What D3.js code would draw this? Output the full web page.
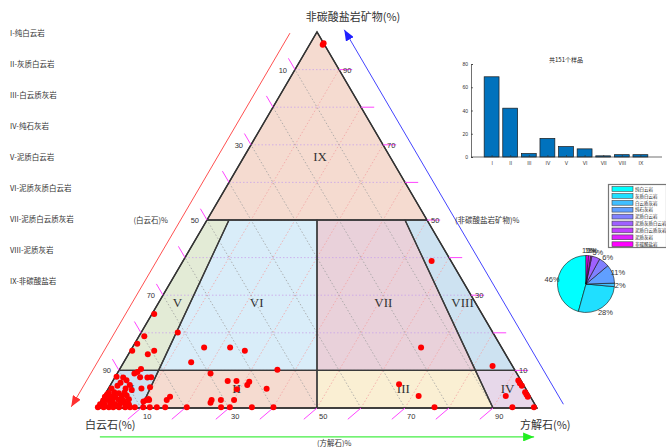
<!DOCTYPE html>
<html>
<head>
<meta charset="utf-8">
<script src="https://cdn.jsdelivr.net/npm/d3@7"></script>
<style>
  body { margin: 0; background: #fff; }
  svg { display: block; }
  text { font-family: "Noto Sans CJK SC", "Liberation Sans", sans-serif; }
</style>
</head>
<body>
<svg id="chart" width="666" height="447"></svg>
<script>
// ---- data -------------------------------------------------------------
const classCodes = ["I", "II", "III", "IV", "V", "VI", "VII", "VIII", "IX"];
const classNames = ["纯白云岩", "灰质白云岩", "白云质灰岩", "纯石灰岩", "泥质白云岩",
                    "泥质灰质白云岩", "泥质白云质灰岩", "泥质灰岩", "非碳酸盐岩"];
const sampleCounts = [69, 42, 3, 16, 9, 7, 1, 2, 2];
const barTicks = [0, 20, 40, 60, 80];
const ternaryLabels = [10, 30, 50, 70, 90];
const gridLevels = [10, 20, 30, 40, 50, 60, 70, 80, 90];
// class boundaries: non-carbonate content (%) and calcite / (calcite + dolomite)
const nonCarbBreaks = [0, 10, 50, 100];
const calciteRatioBreaks = [0, 0.1, 0.5, 0.9, 1];
const regionFills = ["#cde2f1", "#f5dbd0", "#faefd3", "#e7d8ea", "#e3ebd6",
                     "#d9edf9", "#e9d1da", "#cde2f1", "#f5dbd0"];
// samples: [方解石 %, 非碳酸盐岩矿物 %]; 白云石 % is the remainder
const samples = [
  [3, 97], [3, 96.6],
  [56.5, 39.1], [84.3, 11.2],
  [65.6, 16.1],
  [16.3, 16.1], [22.2, 16.1], [26.0, 15.2], [15.3, 12.2], [35.9, 10.2], [8.3, 20.1],
  [0.5, 25.0], [1.2, 19.1], [0.6, 17.1], [0.4, 15.2], [5.4, 15.2], [4.4, 14.3], [4.8, 10.4],
  [65.5, 6.3], [71.5, 3.2], [76.6, 0.2],
  [92.1, 7.3], [92.8, 6.6], [93.6, 5.9], [95.2, 4.2], [95.8, 3.6], [96.4, 3.0],
  [91.3, 3.2], [94.3, 0.2], [99.2, 0.2],
  [21.2, 9.2], [26.1, 7.2], [28.1, 7.2], [29.3, 5.0], [31.1, 6.1], [31.1, 7.0], [36.0, 5.1],
  [25.0, 2.1], [25.1, 1.4], [27.1, 2.1], [30.1, 2.1], [28.1, 0.2], [30.1, 0.2], [35.1, 0.2],
  [40.0, 0.2], [10.4, 0.2], [11.9, 0.2], [13.5, 0.2], [15.4, 0.2], [20.3, 0.2], [14.8, 2.1],
  [15.1, 3.0], [10.8, 2.1], [10.2, 2.1], [10.5, 2.4],
  [5.7, 8.2], [7.4, 8.1], [8.2, 8.2], [7.5, 5.2], [9.3, 5.5], [9.7, 1.7], [4.4, 9.6], [3.9, 9.2],
  [0.3, 8.3], [1.9, 8.1], [2.0, 6.7], [3.0, 7.4], [4.4, 6.1], [3.9, 5.2], [5.5, 4.8], [1.7, 5.9],
  [0.7, 5.2], [0.5, 3.5],
  [0.1, 0.2], [1.4, 0.2], [2.6, 0.2], [3.6, 0.2], [4.9, 0.2], [6.3, 0.2], [7.4, 0.2], [8.5, 0.2],
  [0.2, 1.0], [1.2, 1.0], [2.4, 1.2], [3.6, 1.0], [4.7, 1.1], [5.8, 1.3], [6.8, 0.9],
  [0.4, 2.0], [1.5, 2.1], [2.6, 1.9], [3.8, 2.2], [5.0, 2.0], [6.1, 2.3],
  [0.3, 3.0], [1.6, 3.1], [2.7, 2.9], [4.0, 3.2], [5.1, 3.3],
  [0.6, 4.0], [1.8, 4.2], [3.0, 3.9], [4.2, 4.1]
];

// ---- setup ------------------------------------------------------------
const svg = d3.select("#chart");
const defs = svg.append("defs");
function arrowMarker(id, color) {
  defs.append("marker").attr("id", id)
    .attr("markerUnits", "userSpaceOnUse")
    .attr("markerWidth", 11).attr("markerHeight", 9)
    .attr("refX", 11).attr("refY", 4.5).attr("orient", "auto")
    .append("path").attr("d", "M0,0L11,4.5L0,9Z").attr("fill", color);
}
arrowMarker("arRed", "#ff3030");
arrowMarker("arBlue", "#2020ff");
arrowMarker("arGreen", "#22ee22");

// ternary scales: x carries calcite + half of non-carbonate, y carries non-carbonate
const xT = d3.scaleLinear().domain([0, 100]).range([97, 537]);
const yT = d3.scaleLinear().domain([0, 100]).range([408, 32]);
const pt = (c, n) => [xT(c + n / 2), yT(n)];
const line = d3.line();

const tern = svg.append("g");

// class regions
const regions = [];
[[0, 1], [1, 2]].forEach(([a, b]) => {
  const n0 = nonCarbBreaks[a], n1 = nonCarbBreaks[b];
  for (let k = 0; k < calciteRatioBreaks.length - 1; k++) {
    const r0 = calciteRatioBreaks[k], r1 = calciteRatioBreaks[k + 1];
    const nl = a === 0 ? 5.3 : 28;
    regions.push({
      poly: [pt(r0 * (100 - n0), n0), pt(r1 * (100 - n0), n0),
             pt(r1 * (100 - n1), n1), pt(r0 * (100 - n1), n1)],
      lab: pt((r0 + r1) / 2 * (100 - nl), nl)
    });
  }
});
regions.push({
  poly: [pt(0, 50), pt(50, 50), pt(0, 100)],
  lab: pt(16.6, 66.8)
});

tern.selectAll("polygon.fill").data(regions).join("polygon")
  .attr("class", "fill")
  .attr("points", d => d.poly.map(p => p.join(",")).join(" "))
  .attr("fill", (d, i) => regionFills[i]);

// grid: constant non-carbonate (purple), constant calcite (pink), constant dolomite (grey)
const grid = tern.append("g").attr("fill", "none").attr("stroke-width", 0.8)
  .attr("stroke-dasharray", "1.5,2");
grid.selectAll("path.h").data(gridLevels).join("path").attr("class", "h")
  .attr("d", k => line([pt(0, k), pt(100 - k, k)])).attr("stroke", "#c9a3ea");
grid.selectAll("path.c").data(gridLevels).join("path").attr("class", "c")
  .attr("d", k => line([pt(k, 0), pt(k, 100 - k)])).attr("stroke", "#f2a2a2");
grid.selectAll("path.d").data(gridLevels).join("path").attr("class", "d")
  .attr("d", k => line([pt(100 - k, 0), pt(0, 100 - k)])).attr("stroke", "#a0a0a0");

// region outlines
tern.selectAll("polygon.edge").data(regions).join("polygon")
  .attr("class", "edge")
  .attr("points", d => d.poly.map(p => p.join(",")).join(" "))
  .attr("fill", "none").attr("stroke", "#3a3a3a").attr("stroke-width", 1.3)
  .attr("stroke-linejoin", "round");
tern.append("polygon")
  .attr("points", [pt(0, 0), pt(100, 0), pt(0, 100)].map(p => p.join(",")).join(" "))
  .attr("fill", "none").attr("stroke", "#333").attr("stroke-width", 1.4);

// region numerals
tern.selectAll("text.reg").data(regions).join("text").attr("class", "reg")
  .attr("x", d => d.lab[0] + 3).attr("y", d => d.lab[1] + 4.5)
  .attr("text-anchor", "middle")
  .style("font-family", "'Liberation Serif', serif").style("font-size", "13px")
  .attr("fill", "#333")
  .text((d, i) => classCodes[i]);

// tick marks
const ticks = tern.append("g").attr("stroke", "#ff44ff").attr("stroke-width", 1);
ticks.selectAll("path.l").data(gridLevels).join("path").attr("class", "l")
  .attr("d", k => line([pt(0, k), pt(-3, k + 3)]));
ticks.selectAll("path.r").data(gridLevels).join("path").attr("class", "r")
  .attr("d", k => line([pt(100 - k, k), pt(103 - k, k)]));
ticks.selectAll("path.b").data(gridLevels).join("path").attr("class", "b")
  .attr("d", k => line([pt(k, 0), pt(k - 1.5, -3)]));

const tickFont = g => g.style("font-size", "7.5px").attr("fill", "#333")
  .style("font-family", "'Liberation Sans', sans-serif");
tern.selectAll("text.tl").data(ternaryLabels).join("text").attr("class", "tl")
  .attr("x", v => pt(0, 100 - v)[0] - 8).attr("y", v => pt(0, 100 - v)[1] + 3)
  .attr("text-anchor", "end").call(tickFont).text(v => v);
tern.selectAll("text.tr").data(ternaryLabels).join("text").attr("class", "tr")
  .attr("x", v => pt(100 - v, v)[0] + 4).attr("y", v => pt(100 - v, v)[1] + 3)
  .call(tickFont).text(v => v);
tern.selectAll("text.tb").data(ternaryLabels).join("text").attr("class", "tb")
  .attr("x", v => pt(v, 0)[0] + 2).attr("y", v => pt(v, 0)[1] + 11)
  .call(tickFont).text(v => v);

// direction arrows along the three sides
tern.append("path").attr("d", line([pt(-6, 99.7), pt(-6, 0.3)]))
  .attr("stroke", "#ff5050").attr("stroke-width", 1).attr("marker-end", "url(#arRed)");
tern.append("path").attr("d", line([pt(105.5, 1), pt(5.9, 100.6)]))
  .attr("stroke", "#4444ff").attr("stroke-width", 1).attr("marker-end", "url(#arBlue)");
tern.append("path").attr("d", line([pt(4.5, -7.7), pt(103.2, -7.7)]))
  .attr("stroke", "#44ee44").attr("stroke-width", 1.2).attr("marker-end", "url(#arGreen)");

// axis titles
const ttl = (x, y, t, size, anchor) => tern.append("text").attr("x", x).attr("y", y)
  .attr("text-anchor", anchor || "start").style("font-size", size + "px")
  .attr("fill", "#333").text(t);
ttl(353, 21, "非碳酸盐岩矿物(%)", 11, "middle");
ttl(85, 429, "白云石(%)", 11);
ttl(520, 429, "方解石(%)", 11);
ttl(168, 223, "(白云石)%", 7.5, "end");
ttl(455, 223, "(非碳酸盐岩矿物)%", 7.5);
ttl(317, 446, "(方解石)%", 7.5);

// samples
tern.append("g").selectAll("circle").data(samples).join("circle")
  .attr("cx", d => pt(d[0], d[1])[0]).attr("cy", d => pt(d[0], d[1])[1])
  .attr("r", 3).attr("fill", "#ff0000");

// ---- class legend on the left ----------------------------------------
svg.append("g").selectAll("text").data(classNames).join("text")
  .attr("x", 10).attr("y", (d, i) => 35.5 + i * 31)
  .style("font-size", "7.5px").attr("fill", "#333")
  .text((d, i) => classCodes[i] + "-" + d);

// ---- bar chart --------------------------------------------------------
const bar = svg.append("g");
const xB = d3.scaleLinear().domain([0, 10]).range([473, 659]);
const yB = d3.scaleLinear().domain([0, 80]).range([157, 64]);
bar.append("text").attr("x", 566).attr("y", 62).attr("text-anchor", "middle")
  .style("font-size", "6px").attr("fill", "#222")
  .text("共" + d3.sum(sampleCounts) + "个样品");
bar.selectAll("rect").data(sampleCounts).join("rect")
  .attr("x", (d, i) => xB(i + 1 - 0.4)).attr("width", xB(0.8) - xB(0))
  .attr("y", d => yB(d)).attr("height", d => yB(0) - yB(d))
  .attr("fill", "#0072bd").attr("stroke", "#1a1a1a").attr("stroke-width", 0.7);
const yAx = bar.append("g").attr("transform", "translate(471,0)")
  .call(d3.axisLeft(yB).tickValues(barTicks).tickSize(-2).tickPadding(3));
const xAx = bar.append("g").attr("transform", "translate(0,157)")
  .call(d3.axisBottom(xB).tickValues(d3.range(1, 10)).tickSize(-2).tickPadding(4)
    .tickFormat(i => classCodes[i - 1]));
xAx.select(".domain").attr("d", "M471,0H662");
[yAx, xAx].forEach(a => {
  a.selectAll("text").style("font-size", "5px").attr("fill", "#333")
    .style("font-family", "'Liberation Sans', sans-serif");
  a.selectAll("line,path").attr("stroke", "#333").attr("stroke-width", 0.7);
});

// ---- pie chart --------------------------------------------------------
const cool = i => d3.rgb(255 * i / 8, 255 * (1 - i / 8), 255).toString();
const pieG = svg.append("g").attr("transform", "translate(586,284)");
const R = 28.5;
const arcs = d3.pie().sort(null).startAngle(0).endAngle(-2 * Math.PI)(sampleCounts);
const arcGen = d3.arc().innerRadius(0).outerRadius(R);
pieG.selectAll("path").data(arcs).join("path")
  .attr("d", arcGen).attr("fill", (d, i) => cool(i))
  .attr("stroke", "#111").attr("stroke-width", 0.6);
const total = d3.sum(sampleCounts);
pieG.selectAll("text").data(arcs).join("text")
  .attr("x", d => Math.sin((d.startAngle + d.endAngle) / 2) * R * 1.2)
  .attr("y", d => -Math.cos((d.startAngle + d.endAngle) / 2) * R * 1.2 + 2.7)
  .attr("text-anchor", "middle").style("font-size", "7.5px").attr("fill", "#333")
  .style("font-family", "'Liberation Sans', sans-serif")
  .text(d => Math.round(d.data / total * 100) + "%");

// pie legend
const lg = svg.append("g");
lg.append("rect").attr("x", 608.5).attr("y", 184.5).attr("width", 58).attr("height", 63)
  .attr("fill", "#fff").attr("stroke", "#777").attr("stroke-width", 1.2);
const rows = lg.selectAll("g").data(classNames).join("g")
  .attr("transform", (d, i) => `translate(0,${189 + i * 6.9})`);
rows.append("rect").attr("x", 612).attr("y", -2.4).attr("width", 21).attr("height", 4.8)
  .attr("fill", (d, i) => cool(i)).attr("stroke", "#444").attr("stroke-width", 0.6);
rows.append("text").attr("x", 635).attr("y", 1.7).style("font-size", "4.5px")
  .attr("fill", "#222").text(d => d);
</script>
</body>
</html>
